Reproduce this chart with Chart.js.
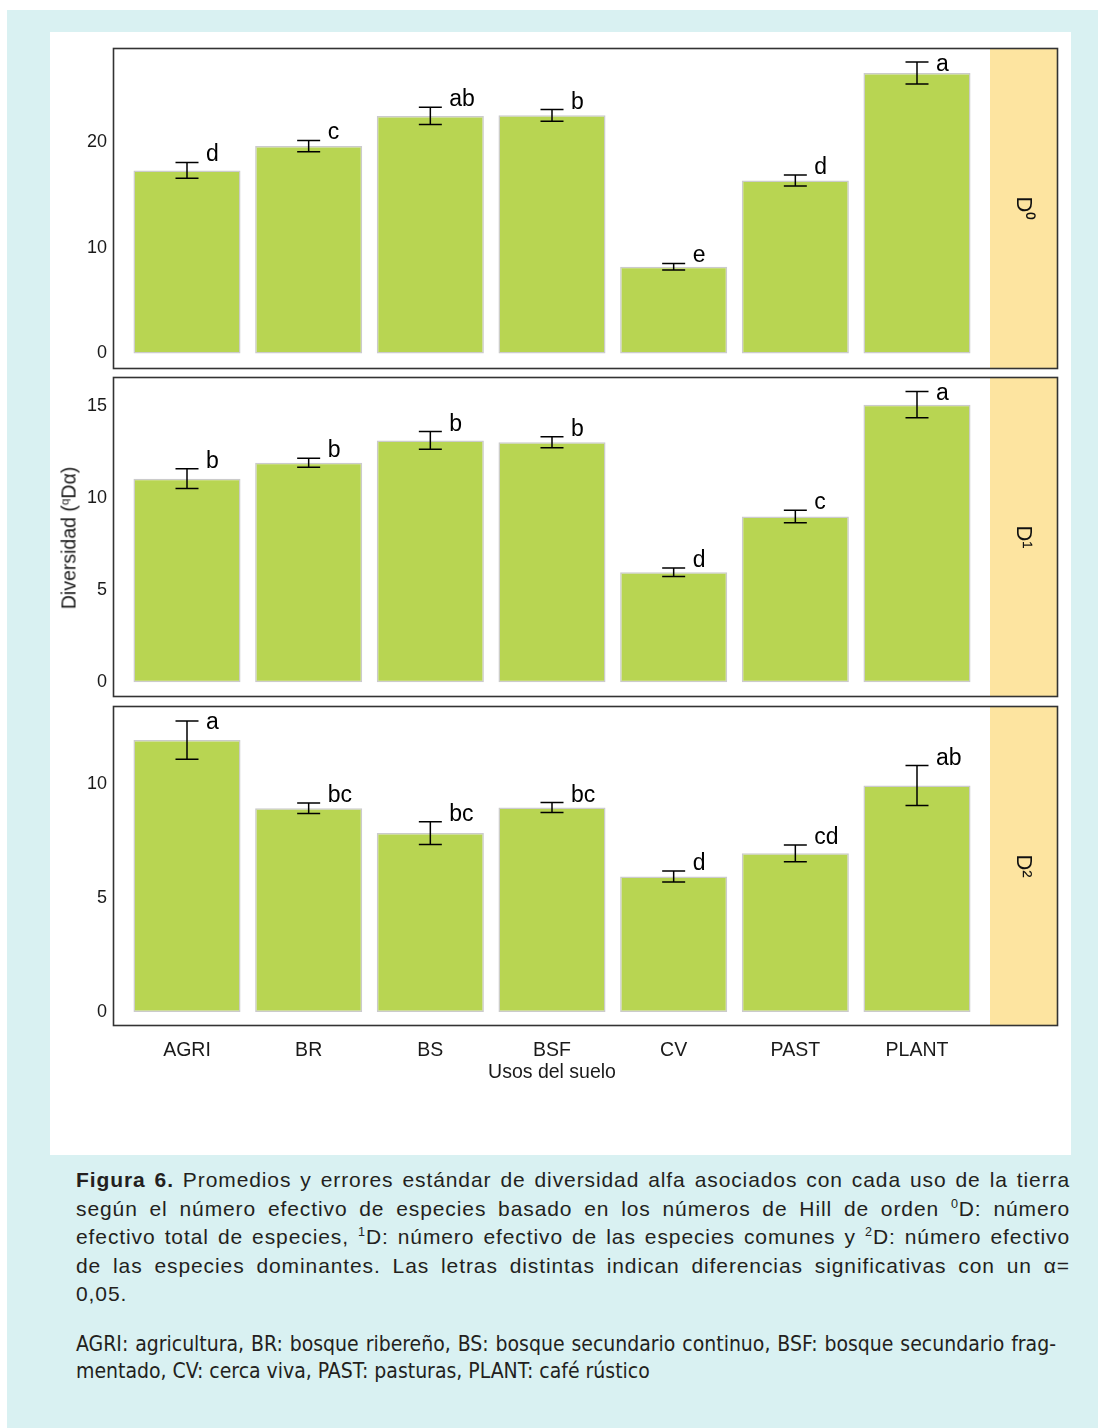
<!DOCTYPE html>
<html lang="es">
<head>
<meta charset="utf-8">
<title>Diversidad alfa por uso del suelo</title>
<script src="https://cdn.jsdelivr.net/npm/chart.js@4.4.1/dist/chart.umd.min.js"></script>
<style>
  html, body { margin: 0; padding: 0; background: #fff; }
  body { width: 1098px; height: 1428px; position: relative; overflow: hidden;
         font-family: "Liberation Sans", Arial, sans-serif; }
  #frame { position: absolute; left: 7px; top: 10px; right: 0; bottom: 0; background: #d9f1f2; }
  #sheet { position: absolute; left: 50px; top: 32px; width: 1021px; height: 1123px; background: #fff; }
  canvas { position: absolute; left: 50px; }
  #ytitle { position: absolute; left: 69px; top: 538px; transform: translate(-50%, -50%) rotate(-90deg);
            font-size: 19.5px; white-space: nowrap; color: #1a1a1a; }
  #ytitle sup { font-size: 0.6em; vertical-align: 0.6em; line-height: 0; }
  .cap { position: absolute; left: 76px; width: 994px; font-size: 21px; letter-spacing: 0.9px; color: #231f20; }
  .cap div { text-align: justify; text-align-last: justify; height: 28.5px; line-height: 28.5px; }
  .cap div.last { text-align-last: left; }
  .cap sup { font-size: 0.6em; vertical-align: 0.6em; line-height: 0; }
  .note { position: absolute; left: 76px; top: 1331px; width: 980px; font-size: 21px; color: #231f20;
          font-family: "Liberation Sans Narrow", "DejaVu Sans Condensed", sans-serif; }
  .note div { text-align: justify; text-align-last: justify; height: 27px; line-height: 27px; }
  .note div.last { text-align-last: left; }
</style>
</head>
<body>
<div id="frame"></div>
<div id="sheet"></div>
<canvas id="c0" width="1020" height="340" style="top:40px"></canvas>
<canvas id="c1" width="1020" height="340" style="top:370px"></canvas>
<canvas id="c2" width="1020" height="410" style="top:700px"></canvas>
<div id="ytitle">Diversidad (<sup>q</sup>Dα)</div>

<div class="cap" style="top:1166px">
  <div><b>Figura 6.</b> Promedios y errores estándar de diversidad alfa asociados con cada uso de la tierra</div>
  <div>según el número efectivo de especies basado en los números de Hill de orden <sup>0</sup>D: número</div>
  <div>efectivo total de especies, <sup>1</sup>D: número efectivo de las especies comunes y <sup>2</sup>D: número efectivo</div>
  <div>de las especies dominantes. Las letras distintas indican diferencias significativas con un α=</div>
  <div class="last">0,05.</div>
</div>
<div class="note">
  <div>AGRI: agricultura, BR: bosque ribereño, BS: bosque secundario continuo, BSF: bosque secundario frag-</div>
  <div class="last">mentado, CV: cerca viva, PAST: pasturas, PLANT: café rústico</div>
</div>

<script>
// Land-use categories (x axis)
const categories = ['AGRI', 'BR', 'BS', 'BSF', 'CV', 'PAST', 'PLANT'];

// Hill number order 0 (species richness)
const d0Means   = [17.3, 19.6, 22.45, 22.5, 8.2, 16.35, 26.5];
const d0Errors  = [0.75, 0.53, 0.82, 0.55, 0.31, 0.52, 1.03];
const d0Letters = ['d', 'c', 'ab', 'b', 'e', 'd', 'a'];
const d0Ticks   = [0, 10, 20];

// Hill number order 1 (common species)
const d1Means   = [11.06, 11.93, 13.14, 13.04, 5.98, 9.0, 15.08];
const d1Errors  = [0.54, 0.245, 0.48, 0.3, 0.23, 0.34, 0.71];
const d1Letters = ['b', 'b', 'b', 'b', 'd', 'c', 'a'];
const d1Ticks   = [0, 5, 10, 15];

// Hill number order 2 (dominant species)
const d2Means   = [11.95, 8.95, 7.86, 8.98, 5.95, 6.97, 9.95];
const d2Errors  = [0.84, 0.23, 0.5, 0.22, 0.24, 0.37, 0.88];
const d2Letters = ['a', 'bc', 'bc', 'bc', 'd', 'cd', 'ab'];
const d2Ticks   = [0, 5, 10];

const stripLabels = ['D⁰', 'D¹', 'D²'];

const FONT = '"Liberation Sans", Arial, sans-serif';
const TEXT = '#1a1a1a';
const STRIP_W = 67;

// Error bars, significance letters, facet strip and panel frame
const panelDecor = {
  id: 'panelDecor',
  afterDatasetsDraw(chart, args, opts) {
    const { ctx, chartArea: a, scales: { x, y } } = chart;
    ctx.save();
    // facet strip on the right side of the panel
    ctx.fillStyle = '#fde4a0';
    ctx.fillRect(a.right, a.top, STRIP_W, a.bottom - a.top);
    ctx.fillStyle = '#111';
    ctx.font = '22px ' + FONT;
    ctx.textAlign = 'center';
    ctx.textBaseline = 'middle';
    ctx.translate(a.right + STRIP_W / 2, (a.top + a.bottom) / 2);
    ctx.rotate(Math.PI / 2);
    ctx.fillText(opts.strip, 0, 0);
    ctx.restore();

    ctx.save();
    ctx.strokeStyle = '#000';
    ctx.lineWidth = 1.5;
    ctx.fillStyle = '#000';
    ctx.font = '23px ' + FONT;
    ctx.textAlign = 'left';
    ctx.textBaseline = 'alphabetic';
    opts.means.forEach((m, i) => {
      const px = x.getPixelForValue(i + 1);
      const hi = y.getPixelForValue(m + opts.errors[i]);
      const lo = y.getPixelForValue(m - opts.errors[i]);
      ctx.beginPath();
      ctx.moveTo(px, hi); ctx.lineTo(px, lo);
      ctx.moveTo(px - 11.5, hi); ctx.lineTo(px + 11.5, hi);
      ctx.moveTo(px - 11.5, lo); ctx.lineTo(px + 11.5, lo);
      ctx.stroke();
      // keep the letter inside the panel frame
      const base = Math.max(hi - 1, a.top + 22);
      ctx.fillText(opts.letters[i], px + 19, base);
    });
    ctx.restore();

    // panel frame enclosing plot and strip
    ctx.save();
    ctx.strokeStyle = '#333';
    ctx.lineWidth = 1.6;
    ctx.strokeRect(a.left - 0.5, a.top - 0.5, a.right + STRIP_W - a.left + 1, a.bottom - a.top + 1);
    ctx.restore();
  }
};

function noEdgePadding(s) {
  s.paddingTop = 0; s.paddingBottom = 0; s.paddingLeft = 0; s.paddingRight = 0;
}

function makePanel(id, means, errors, letters, ticks, yMin, yMax, strip, showX, pad) {
  return new Chart(document.getElementById(id), {
    type: 'bar',
    data: {
      datasets: [{
        data: means.map((v, i) => ({ x: i + 1, y: v })),
        backgroundColor: '#b8d552',
        borderColor: '#cbcbcb',
        borderWidth: 1.5,
        borderSkipped: false,
        barPercentage: 0.88,
        categoryPercentage: 1.0
      }]
    },
    options: {
      responsive: false,
      animation: false,
      devicePixelRatio: 1,
      layout: { padding: pad },
      plugins: {
        legend: { display: false },
        tooltip: { enabled: false },
        panelDecor: { means, errors, letters, strip }
      },
      scales: {
        x: {
          type: 'linear',
          display: showX,
          min: 0.4,
          max: 7.6,
          offset: false,
          grid: { display: false, drawTicks: false, offset: false },
          border: { display: false },
          afterBuildTicks: s => { s.ticks = categories.map((c, i) => ({ value: i + 1 })); },
          afterFit: s => { noEdgePadding(s); if (showX) s.height = 85; },
          ticks: {
            autoSkip: false, maxRotation: 0, padding: 14,
            color: TEXT, font: { family: FONT, size: 19.5 },
            callback: v => categories[v - 1]
          },
          title: {
            display: showX, text: 'Usos del suelo', color: TEXT,
            font: { family: FONT, size: 19.5 }, padding: { top: 0, bottom: 26 }
          }
        },
        y: {
          min: yMin,
          max: yMax,
          grid: { display: false, drawTicks: false },
          border: { display: false },
          afterFit: s => { noEdgePadding(s); s.width = 64; },
          afterBuildTicks: s => { s.ticks = ticks.map(v => ({ value: v })); },
          ticks: { padding: 7, color: TEXT, font: { family: FONT, size: 18 } }
        }
      }
    },
    plugins: [panelDecor]
  });
}

makePanel('c0', d0Means, d0Errors, d0Letters, d0Ticks, -1.37, 28.77, stripLabels[0], false,
          { left: 0, right: 80, top: 9, bottom: 12 });
makePanel('c1', d1Means, d1Errors, d1Letters, d1Ticks, -0.75, 16.53, stripLabels[1], false,
          { left: 0, right: 80, top: 8, bottom: 14 });
makePanel('c2', d2Means, d2Errors, d2Letters, d2Ticks, -0.57, 13.4, stripLabels[2], true,
          { left: 0, right: 80, top: 7, bottom: 0 });
</script>
</body>
</html>
